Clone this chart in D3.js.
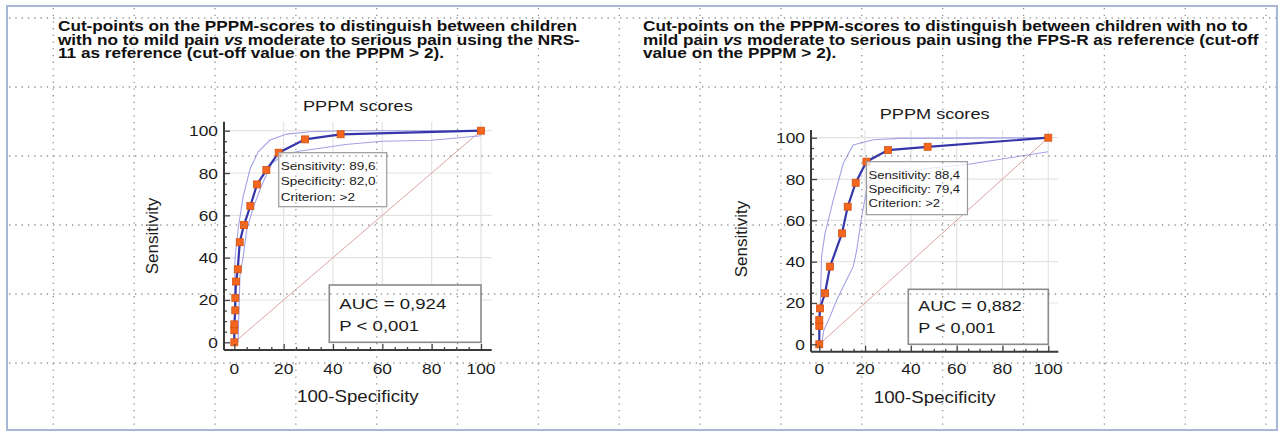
<!DOCTYPE html>
<html>
<head>
<meta charset="utf-8">
<script src="https://cdn.jsdelivr.net/npm/d3@7"></script>
<style>
  html, body { margin: 0; padding: 0; background: #fff; }
  svg { display: block; font-family: Arial, "Liberation Sans", sans-serif; }
</style>
</head>
<body>
<svg id="page" width="1281" height="432"></svg>
<script>
"use strict";

// ---- values ----
const ticks = [0, 20, 40, 60, 80, 100];
const minorTicks = d3.range(0, 101, 5);

// NRS-11 reference (left chart)
const nrsTitle = [
  "Cut-points on the PPPM-scores to distinguish between children",
  "with no to mild pain *vs* moderate to serious pain using the NRS-",
  "11 as reference (cut-off value on the PPPM > 2)."
];
const nrsRocX = [0, 0, 0, 0.4, 0.4, 0.7, 1.4, 2.2, 3.9, 6.5, 9.2, 13.0, 18.0, 28.7, 43.1, 100];
const nrsRocY = [0, 5.7, 8.5, 15.1, 21.0, 28.7, 34.5, 47.3, 55.4, 64.4, 74.6, 81.4, 89.6, 95.9, 98.3, 100];
const nrsUpperX = [0, 0.3, 1.6, 3.6, 6.4, 9.7, 14.5, 21.2, 30.7, 45, 100];
const nrsUpperY = [0, 40, 54, 69, 82, 90, 95.6, 98.4, 99.5, 100, 100];
const nrsLowerX = [1.5, 2.3, 3.6, 5.0, 7.5, 11.0, 15.2, 20.0, 26.0, 33.4, 45.0, 60.0, 80.0, 100];
const nrsLowerY = [0, 31.7, 40.4, 53, 63, 74, 84.6, 88.5, 90.3, 91.5, 93.5, 95, 95.5, 97.6];
const nrsCut = { sens: 89.6, spec: 82.0 };
const nrsStats = ["Sensitivity: 89,6", "Specificity: 82,0", "Criterion: >2"];
const nrsAuc = ["AUC = 0,924", "P < 0,001"];

// FPS-R reference (right chart)
const fpsTitle = [
  "Cut-points on the PPPM-scores to distinguish between children with no to",
  "mild pain *vs* moderate to serious pain using the FPS-R as reference (cut-off",
  "value on the PPPM > 2)."
];
const fpsRocX = [0, 0, 0, 0.3, 2.5, 4.7, 9.9, 12.4, 15.9, 20.6, 30.0, 47.3, 100];
const fpsRocY = [0, 8.9, 11.8, 17.4, 24.7, 37.6, 53.7, 66.6, 78.2, 88.4, 94.0, 95.6, 100];
const fpsUpperX = [0, 1.0, 2.5, 6.1, 10.5, 14.8, 18.5, 23.6, 35, 100];
const fpsUpperY = [0, 42.4, 53.7, 69.8, 87.6, 96.5, 97.6, 99, 99.7, 100];
const fpsLowerX = [1.0, 2.0, 4.7, 7.6, 11.2, 14.8, 16.3, 17.0, 18.5, 20.7, 22.1, 35, 48.3, 65.8, 100];
const fpsLowerY = [0, 6.9, 13.4, 21.4, 29.5, 37.6, 45.3, 50.5, 61.8, 74.7, 79.5, 83, 85.2, 87.3, 93.2];
const fpsCut = { sens: 88.4, spec: 79.4 };
const fpsStats = ["Sensitivity: 88,4", "Specificity: 79,4", "Criterion: >2"];
const fpsAuc = ["AUC = 0,882", "P < 0,001"];

const chartTitle = "PPPM scores";
const xLabel = "100-Specificity";
const yLabel = "Sensitivity";

// the reference picture is stretched sideways, so text gets a small x-scale
const SX = 1.17;

const svg = d3.select("#page");
const zip = (xs, ys) => xs.map((x, i) => [x, ys[i]]);

function stretched(g, x, y, str, size, anchor, sx) {
  return g.append("text")
    .attr("transform", `translate(${x},${y}) scale(${sx || SX},1)`)
    .attr("text-anchor", anchor || "start")
    .attr("font-size", size)
    .attr("fill", "#1b1b1b")
    .text(str);
}

// title block above each chart, *word* marks italic
function drawTitle(lines, x) {
  const g = svg.append("g");
  lines.forEach((line, i) => {
    const t = g.append("text")
      .attr("transform", `translate(${x},${31 + i * 13.5}) scale(1.228,1)`)
      .attr("font-size", 14)
      .attr("font-weight", "bold")
      .attr("fill", "#111");
    line.split("*").forEach((part, j) => {
      t.append("tspan").attr("font-style", j % 2 ? "italic" : null).text(part);
    });
  });
}

function drawRoc(cfg) {
  const x = d3.scaleLinear().domain(cfg.xDomain).range([cfg.left, cfg.right]);
  const y = d3.scaleLinear().domain(cfg.yDomain).range([cfg.bottom, cfg.top]);
  const g = svg.append("g");

  // light grid
  g.append("g").selectAll("line.v").data(ticks.slice(1)).enter().append("line")
    .attr("x1", d => x(d)).attr("x2", d => x(d))
    .attr("y1", cfg.bottom).attr("y2", cfg.top)
    .attr("stroke", "#e3e3e3").attr("stroke-width", 1.2);
  g.append("g").selectAll("line.h").data(ticks.slice(1)).enter().append("line")
    .attr("y1", d => y(d)).attr("y2", d => y(d))
    .attr("x1", cfg.left).attr("x2", cfg.right)
    .attr("stroke", "#e3e3e3").attr("stroke-width", 1.2);

  // diagonal reference
  const line = d3.line().x(d => x(d[0])).y(d => y(d[1]));
  g.append("path").datum([[0, 0], [100, 100]]).attr("d", line)
    .attr("fill", "none").attr("stroke", "#dca4a4").attr("stroke-width", 1);

  // confidence bands
  [zip(cfg.upperX, cfg.upperY), zip(cfg.lowerX, cfg.lowerY)].forEach(band => {
    g.append("path").datum(band).attr("d", line)
      .attr("fill", "none").attr("stroke", "#a3a3e6").attr("stroke-width", 1.1);
  });

  // roc curve + points
  const pts = zip(cfg.rocX, cfg.rocY);
  g.append("path").datum(pts).attr("d", line)
    .attr("fill", "none").attr("stroke", "#3636aa").attr("stroke-width", 2.2);
  g.append("g").selectAll("rect").data(pts).enter().append("rect")
    .attr("x", d => x(d[0]) - 3.5).attr("y", d => y(d[1]) - 3.5)
    .attr("width", 7).attr("height", 7)
    .attr("fill", "#f4661e").attr("stroke", "#d4520f").attr("stroke-width", 0.8);

  // axes, ticks pointing inward
  const xAxis = d3.axisTop(x).tickValues(minorTicks)
    .tickSize(0).tickFormat("");
  const ax = g.append("g").attr("transform", `translate(0,${cfg.bottom})`).call(xAxis);
  ax.select(".domain").remove();
  ax.selectAll(".tick line").attr("y2", d => d % 20 === 0 ? -6 : -3)
    .attr("stroke", "#444").attr("stroke-width", 1.3);
  const yAxis = d3.axisRight(y).tickValues(minorTicks).tickSize(0).tickFormat("");
  const ay = g.append("g").attr("transform", `translate(${cfg.left},0)`).call(yAxis);
  ay.select(".domain").remove();
  ay.selectAll(".tick line").attr("x2", d => d % 20 === 0 ? 6 : 3)
    .attr("stroke", "#444").attr("stroke-width", 1.3);
  g.append("line").attr("x1", cfg.left).attr("x2", cfg.right)
    .attr("y1", cfg.bottom).attr("y2", cfg.bottom)
    .attr("stroke", "#3a3a3a").attr("stroke-width", 2);
  g.append("line").attr("x1", cfg.left).attr("x2", cfg.left)
    .attr("y1", cfg.bottom).attr("y2", cfg.top)
    .attr("stroke", "#3a3a3a").attr("stroke-width", 2);

  ticks.forEach(t => {
    stretched(g, x(t), 374, t, 15.5, "middle", 1.12);
    stretched(g, cfg.left - 6, y(t) + 5.5, t, 15.5, "end", 1.12);
  });

  const cx = (cfg.left + cfg.right) / 2;
  stretched(g, cx, cfg.titleY, chartTitle, 15.5, "middle");
  stretched(g, cx, cfg.xLabelY, xLabel, 16, "middle");
  g.append("text")
    .attr("transform", `translate(${cfg.yLabelX},${cfg.yLabelY}) rotate(-90)`)
    .attr("text-anchor", "middle").attr("font-size", 17).attr("fill", "#1b1b1b")
    .text(yLabel);

  // cut-point box
  const bx = x(100 - cfg.cut.spec), by = y(cfg.cut.sens);
  g.append("rect").attr("x", bx).attr("y", by)
    .attr("width", cfg.statW).attr("height", cfg.statH)
    .attr("fill", "#fff").attr("fill-opacity", 0.75)
    .attr("stroke", "#9a9a9a").attr("stroke-width", 1.2);
  cfg.stats.forEach((s, i) => {
    stretched(g, bx + 2, by + 17 + i * cfg.statGap, s, cfg.statSize, "start");
  });

  // AUC box in lower right corner
  const ax0 = x(100) - cfg.aucW, ay0 = y(0) - cfg.aucH;
  g.append("rect").attr("x", ax0).attr("y", ay0)
    .attr("width", cfg.aucW).attr("height", cfg.aucH)
    .attr("fill", "#fff").attr("stroke", "#8a8a8a").attr("stroke-width", 1.6);
  cfg.auc.forEach((s, i) => {
    stretched(g, ax0 + 10, ay0 + cfg.aucY0 + i * 22.5, s, cfg.aucSize, "start", 1.2);
  });
}

drawTitle(nrsTitle, 58);
drawTitle(fpsTitle, 643);

drawRoc({
  left: 224, right: 491.7, top: 121.7, bottom: 350,
  xDomain: [-4.18, 104.34], yDomain: [-3.64, 104.25],
  rocX: nrsRocX, rocY: nrsRocY,
  upperX: nrsUpperX, upperY: nrsUpperY, lowerX: nrsLowerX, lowerY: nrsLowerY,
  cut: nrsCut, stats: nrsStats, auc: nrsAuc,
  statW: 108, statH: 54, statGap: 15.6, statSize: 11.6,
  aucW: 151.7, aucH: 57.3, aucY0: 24, aucSize: 15.5,
  titleY: 111, xLabelY: 402, yLabelX: 158, yLabelY: 236
});

drawRoc({
  left: 811, right: 1058.3, top: 130, bottom: 351.7,
  xDomain: [-3.62, 104.37], yDomain: [-3.58, 103.73],
  rocX: fpsRocX, rocY: fpsRocY,
  upperX: fpsUpperX, upperY: fpsUpperY, lowerX: fpsLowerX, lowerY: fpsLowerY,
  cut: fpsCut, stats: fpsStats, auc: fpsAuc,
  statW: 101, statH: 53, statGap: 14.3, statSize: 11.2,
  aucW: 140, aucH: 55, aucY0: 21.5, aucSize: 15,
  titleY: 118.5, xLabelY: 403, yLabelX: 747, yLabelY: 239
});

// page frame and the dotted table gridlines of the document
svg.append("rect").attr("x", 7).attr("y", 6).attr("width", 1270).attr("height", 424)
  .attr("fill", "none").attr("stroke", "#a9b7d6").attr("stroke-width", 2);
const grid = svg.append("g").attr("stroke", "#6f6f6f").attr("stroke-width", 1.3)
  .attr("opacity", 0.75);
d3.range(16).forEach(k => {
  const gx = 53.3 + 80.85 * k;
  grid.append("line").attr("x1", gx).attr("x2", gx).attr("y1", 8).attr("y2", 429)
    .attr("stroke-dasharray", "1.3,5.4");
});
d3.range(6).forEach(k => {
  const gy = 18 + 69 * k;
  grid.append("line").attr("y1", gy).attr("y2", gy).attr("x1", 9).attr("x2", 1276)
    .attr("stroke-dasharray", "1.3,5");
});
</script>
</body>
</html>
